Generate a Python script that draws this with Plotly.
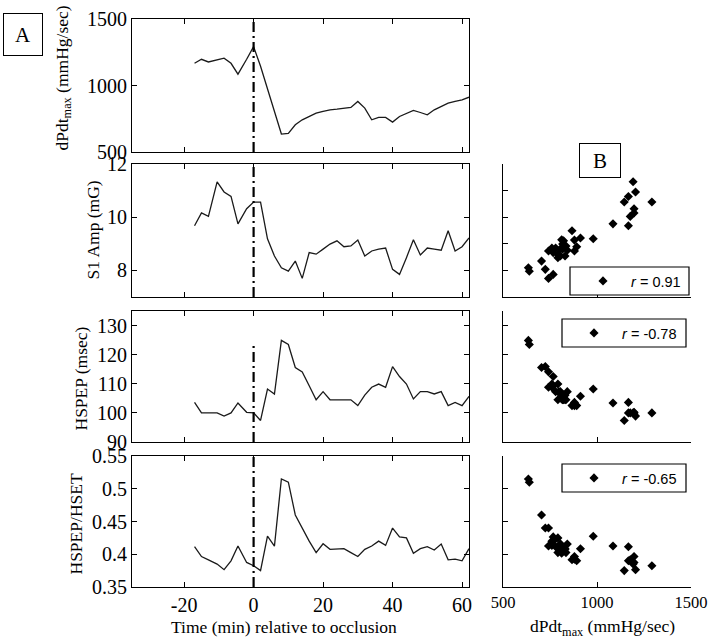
import plotly.graph_objects as go

# ---------------- data ----------------
time_min = [-17, -15, -13, -10.5, -8.5, -6.5, -4.5, -2, 0,
            2, 4, 6, 8, 10, 12, 14, 16, 18, 20, 22, 24, 26, 28, 30,
            32, 34, 36, 38, 40, 42, 44, 46, 48, 50, 52, 54, 56, 58, 60, 62]

dpdt_max = [1167, 1197, 1177, 1192, 1205, 1167, 1085, 1197, 1292,
            1145, 980, 805, 635, 640, 705, 742, 767, 792, 805, 817, 822, 830, 835, 880,
            830, 742, 760, 760, 725, 767, 792, 812, 797, 780, 817, 842, 867, 880, 892, 912]

s1_amp = [9.68, 10.16, 10.03, 11.33, 10.95, 10.78, 9.75, 10.32, 10.57,
          10.57, 9.19, 8.54, 8.10, 7.97, 8.35, 7.70, 8.67, 8.61, 8.80, 8.99, 9.11, 8.89, 8.92, 9.14,
          8.54, 8.73, 8.80, 8.84, 8.04, 7.85, 8.48, 9.15, 8.58, 8.84, 8.80, 8.76, 9.49, 8.73, 8.89, 9.22]

hspep = [103.6, 100.0, 100.0, 100.0, 98.9, 100.0, 103.4, 100.2, 100.0,
         97.4, 108.2, 106.5, 124.9, 123.5, 115.6, 114.1, 109.3, 104.5, 107.3, 104.5, 104.5, 104.5, 104.5, 102.5,
         106.1, 108.8, 109.9, 108.8, 115.9, 112.5, 109.9, 104.8, 107.3, 107.3, 106.5, 107.3, 102.5, 103.6, 102.5, 105.7]

hspep_hset = [0.4115, 0.3965, 0.3915, 0.385, 0.3765, 0.39, 0.4125, 0.3875, 0.3825,
              0.375, 0.4275, 0.4125, 0.515, 0.51, 0.46, 0.44, 0.42, 0.4025, 0.416, 0.4075, 0.4075, 0.4085, 0.4025, 0.3965,
              0.4075, 0.4125, 0.42, 0.4135, 0.44, 0.4265, 0.425, 0.4015, 0.4085, 0.4115, 0.4065, 0.4155, 0.3915, 0.3925, 0.39, 0.4085]

occlusion_time = 0
hspep_marker_top = 124

NB = "\u00a0" * 2
r_labels = [NB + "<i>r</i> = 0.91", NB + "<i>r</i> = -0.78", NB + "<i>r</i> = -0.65"]

left_titles = ["dPdt<sub>max</sub> (mmHg/sec)", "S1 Amp (mG)", "HSPEP (msec)", "HSPEP/HSET"]
left_ranges = [[500, 1500], [7, 12], [90, 135], [0.35, 0.55]]
left_tickvals = [[500, 1000, 1500], [8, 10, 12], [90, 100, 110, 120, 130], [0.35, 0.4, 0.45, 0.5, 0.55]]
left_ticktext = [["500", "1000", "1500"], ["8", "10", "12"], ["90", "100", "110", "120", "130"],
                 ["0.35", "0.4", "0.45", "0.5", "0.55"]]
right_tickvals = [[8, 9, 10, 11, 12], [100, 110, 120, 130], [0.4, 0.45, 0.5, 0.55]]
time_ticks = [-20, 0, 20, 40, 60]
time_ticktext = ["-20", "0", "20", "40", "60"]
dpdt_ticks = [500, 1000, 1500]
dpdt_ticktext = ["500", "1000", "1500"]

# ---------------- layout helpers ----------------
W, H = 709, 644
def fx(p):
    return p / W
def fy(p):
    return 1 - p / H

SERIF = "Liberation Serif"
SANS = "Liberation Sans"
LINE = "#1a1a1a"

left_x = [132, 469]
right_x = [503, 691]
panels_y = [(19, 152), (164, 297), (311, 442), (456, 587)]

fig = go.Figure()
layout = dict(width=W, height=H, margin=dict(l=0, r=0, t=0, b=0, autoexpand=False),
              paper_bgcolor="white", plot_bgcolor="white", showlegend=True)

def base_axis():
    return dict(showgrid=False, zeroline=False, showline=True, linecolor="black", linewidth=1.2,
                ticks="inside", ticklen=5, tickcolor="black", tickwidth=1, automargin=False,
                tickfont=dict(family=SERIF, size=20, color="black"))

series = [dpdt_max, s1_amp, hspep, hspep_hset]
shapes = []
annotations = []

for i in range(4):
    n = i + 1
    xa = "xaxis" if n == 1 else f"xaxis{n}"
    ya = "yaxis" if n == 1 else f"yaxis{n}"
    xr = "x" if n == 1 else f"x{n}"
    yr = "y" if n == 1 else f"y{n}"
    top, bot = panels_y[i]
    fig.add_trace(go.Scatter(x=time_min, y=series[i], mode="lines",
                             line=dict(color=LINE, width=1.3),
                             xaxis=xr, yaxis=yr, showlegend=False, hoverinfo="skip"))
    ax = base_axis()
    ax.update(domain=[fx(left_x[0]), fx(left_x[1])], range=[-35, 62], tickvals=time_ticks,
              ticktext=time_ticktext, mirror="ticks", anchor=yr, showticklabels=(n == 4))
    layout[xa] = ax
    ay = base_axis()
    ay.update(domain=[fy(bot), fy(top)], range=left_ranges[i], tickvals=left_tickvals[i],
              ticktext=left_ticktext[i], mirror="ticks", anchor=xr)
    layout[ya] = ay
    # occlusion marker
    if i == 2:
        shapes.append(dict(type="line", xref=xr, yref=yr, x0=occlusion_time, x1=occlusion_time,
                           y0=left_ranges[i][0], y1=hspep_marker_top,
                           line=dict(color="black", width=2.2, dash="10px,4px,2px,4px")))
    else:
        shapes.append(dict(type="line", xref=xr, yref=f"{yr} domain", x0=occlusion_time, x1=occlusion_time,
                           y0=0, y1=1, line=dict(color="black", width=2.2, dash="10px,4px,2px,4px")))
    # y title
    annotations.append(dict(text=left_titles[i], xref="paper", yref="paper",
                            x=fx([63, 92, 80, 75][i]), y=fy((top + bot) / 2 - [7, 0, -2, -3][i]),
                            textangle=-90, showarrow=False, xanchor="center", yanchor="middle",
                            font=dict(family=SERIF, size=17.5, color="black")))

# right scatter panels
legend_boxes = [(570, 267, 689, 295), (562, 319, 686, 347), (562, 464, 686, 492)]
legend_marker_x = [603, 594, 594]
for j in range(3):
    n = j + 5
    xr, yr = f"x{n}", f"y{n}"
    top, bot = panels_y[j + 1]
    lname = "legend" if j == 0 else f"legend{j + 1}"
    fig.add_trace(go.Scatter(x=dpdt_max, y=series[j + 1], mode="markers",
                             marker=dict(symbol="diamond", size=7, color="black"),
                             name=r_labels[j], xaxis=xr, yaxis=yr, legend=lname, hoverinfo="skip"))
    ax = base_axis()
    ax.update(domain=[fx(right_x[0]), fx(right_x[1])], range=[500, 1500], tickvals=dpdt_ticks,
              ticktext=dpdt_ticktext, anchor=yr, showticklabels=(j == 2),
              tickfont=dict(family=SERIF, size=16.5, color="black"))
    layout[f"xaxis{n}"] = ax
    ay = base_axis()
    ay.update(domain=[fy(bot), fy(top)], range=left_ranges[j + 1], tickvals=right_tickvals[j],
              anchor=xr, showticklabels=False)
    layout[f"yaxis{n}"] = ay
    x0, y0, x1, y1 = legend_boxes[j]
    shapes.append(dict(type="rect", xref="paper", yref="paper", x0=fx(x0), x1=fx(x1), y0=fy(y1), y1=fy(y0),
                       line=dict(color="black", width=1.2), fillcolor="white", layer="above"))
    layout[lname] = dict(x=fx(legend_marker_x[j] - 20), y=fy((y0 + y1) / 2), xanchor="left", yanchor="middle",
                         xref="paper", yref="paper", bgcolor="rgba(0,0,0,0)", borderwidth=0,
                         font=dict(family=SANS, size=14.5, color="black"), itemwidth=30)

# axis titles at bottom
annotations.append(dict(text="Time (min) relative to occlusion", xref="paper", yref="paper",
                        x=fx(284), y=fy(627), showarrow=False, xanchor="center", yanchor="middle",
                        font=dict(family=SERIF, size=17.5, color="black")))
annotations.append(dict(text="dPdt<sub>max</sub> (mmHg/sec)", xref="paper", yref="paper",
                        x=fx(602), y=fy(627), showarrow=False, xanchor="center", yanchor="middle",
                        font=dict(family=SERIF, size=17.5, color="black")))
# panel letters
annotations.append(dict(text="A", xref="paper", yref="paper", x=fx(23), y=fy(34), showarrow=False,
                        xanchor="center", yanchor="middle", width=38, height=41, borderpad=0,
                        bordercolor="black", borderwidth=1, bgcolor="white",
                        font=dict(family=SERIF, size=21, color="black")))
annotations.append(dict(text="B", xref="paper", yref="paper", x=fx(600), y=fy(160), showarrow=False,
                        xanchor="center", yanchor="middle", width=40, height=33, borderpad=0,
                        bordercolor="black", borderwidth=1, bgcolor="white",
                        font=dict(family=SERIF, size=21, color="black")))

layout["shapes"] = shapes
layout["annotations"] = annotations
fig.update_layout(**layout)
fig.write_html("out.html", config={"displayModeBar": False},
               post_script="document.body.style.margin='0px'; document.body.style.overflow='hidden';")
